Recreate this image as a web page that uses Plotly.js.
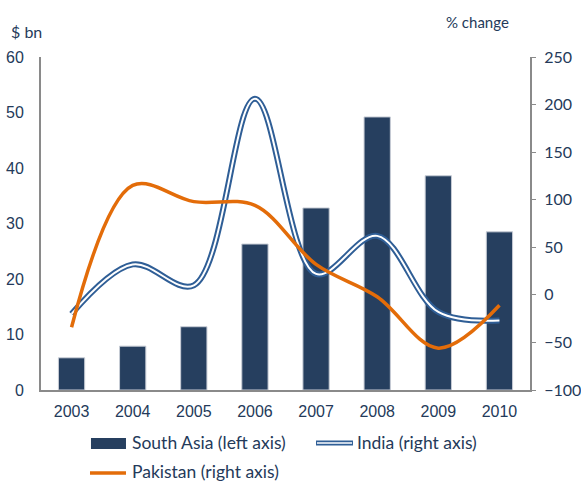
<!DOCTYPE html>
<html><head><meta charset="utf-8">
<script src="https://cdn.plot.ly/plotly-3.0.1.min.js"></script>
<style>html,body{margin:0;padding:0;background:#fff}#c{width:581px;height:482px}</style>
</head><body><div id="c"></div>
<script>
const years = ['2003','2004','2005','2006','2007','2008','2009','2010'];
const southAsia = [5.8, 7.9, 11.4, 26.3, 32.8, 49.2, 38.6, 28.5];
const india = [-20, 32, 10, 206, 22, 62, -18, -27];
const pakistan = [-34, 115, 98, 94, 32, -2, -56, -11];
const leftTicks = [0,10,20,30,40,50,60];
const rightTicks = [-100,-50,0,50,100,150,200,250];
const seriesNames = ['South Asia (left axis)', 'India (right axis)', 'Pakistan (right axis)'];

const navy = '#263f5f';
const blue = '#2f5e96';
const orange = '#e36c09';
const txt = '#243a5a';
const gray = '#8a8a8a';
const legFont = {family:'Lato, Open Sans, sans-serif', size:17.5, color:txt};

const traces = [
  {type:'bar', x:years, y:southAsia, name:seriesNames[0], marker:{color:navy, line:{color:'#c8cdd6', width:1}}, yaxis:'y'},
  {type:'scatter', mode:'lines', x:years, y:india, name:seriesNames[1], yaxis:'y2', line:{color:blue, width:6, shape:'spline', smoothing:1}},
  {type:'scatter', mode:'lines', x:years, y:india, showlegend:false, hoverinfo:'skip', yaxis:'y2', line:{color:'#ffffff', width:2, shape:'spline', smoothing:1}},
  {type:'scatter', mode:'lines', x:years, y:pakistan, name:seriesNames[2], yaxis:'y2', line:{color:orange, width:3.5, shape:'spline', smoothing:1}}
];
const layout = {
  width:581, height:482,
  margin:{l:41, r:51, t:57, b:92, autoexpand:false},
  paper_bgcolor:'#fff', plot_bgcolor:'#fff',
  bargap:0.57,
  showlegend:false,
  font:{family:'Liberation Sans, Arial, sans-serif', size:16, color:txt},
  xaxis:{type:'category', showline:true, linecolor:gray, linewidth:2, ticks:'', showgrid:false, tickfont:{size:16, color:txt}, ticklabelstandoff:6},
  yaxis:{range:[0,60], tickvals:leftTicks, showline:true, linecolor:gray, linewidth:2, showgrid:false, zeroline:false, ticks:'', tickfont:{size:16, color:txt}, ticklabelstandoff:12},
  yaxis2:{range:[-100,250], tickvals:rightTicks, overlaying:'y', side:'right', showline:true, linecolor:gray, linewidth:2, showgrid:false, zeroline:false, ticks:'outside', ticklen:4, tickcolor:gray, tickfont:{family:'Lato, sans-serif', size:16, color:txt}, ticklabelstandoff:5},
  shapes:[
    {type:'rect', xref:'paper', yref:'paper', x0:0.1022, x1:0.1738, y0:-0.1772, y1:-0.1441, fillcolor:navy, line:{width:0}},
    {type:'line', xref:'paper', yref:'paper', x0:0.5624, x1:0.638, y0:-0.159, y1:-0.159, line:{color:blue, width:5}},
    {type:'line', xref:'paper', yref:'paper', x0:0.5644, x1:0.636, y0:-0.159, y1:-0.159, line:{color:'#ffffff', width:1.5}},
    {type:'line', xref:'paper', yref:'paper', x0:0.1002, x1:0.1738, y0:-0.2492, y1:-0.2492, line:{color:orange, width:3.5}}
  ],
  annotations:[
    {text:'$ bn', xref:'paper', yref:'paper', x:-0.065, y:1.0, yshift:26, xanchor:'left', yanchor:'middle', showarrow:false, font:{family:'Lato, sans-serif', size:16, color:txt}},
    {text:'% change', xref:'paper', yref:'paper', x:0.825, y:1.0, yshift:35, xanchor:'left', yanchor:'middle', showarrow:false, font:{family:'Lato, sans-serif', size:15, color:txt}},
    {text:seriesNames[0], xref:'paper', yref:'paper', x:0.182, y:-0.159, xanchor:'left', yanchor:'middle', showarrow:false, font:legFont},
    {text:seriesNames[1], xref:'paper', yref:'paper', x:0.642, y:-0.159, xanchor:'left', yanchor:'middle', showarrow:false, font:legFont},
    {text:seriesNames[2], xref:'paper', yref:'paper', x:0.182, y:-0.246, xanchor:'left', yanchor:'middle', showarrow:false, font:legFont}
  ]
};
Plotly.newPlot('c', traces, layout, {displayModeBar:false, staticPlot:true});
</script></body></html>
